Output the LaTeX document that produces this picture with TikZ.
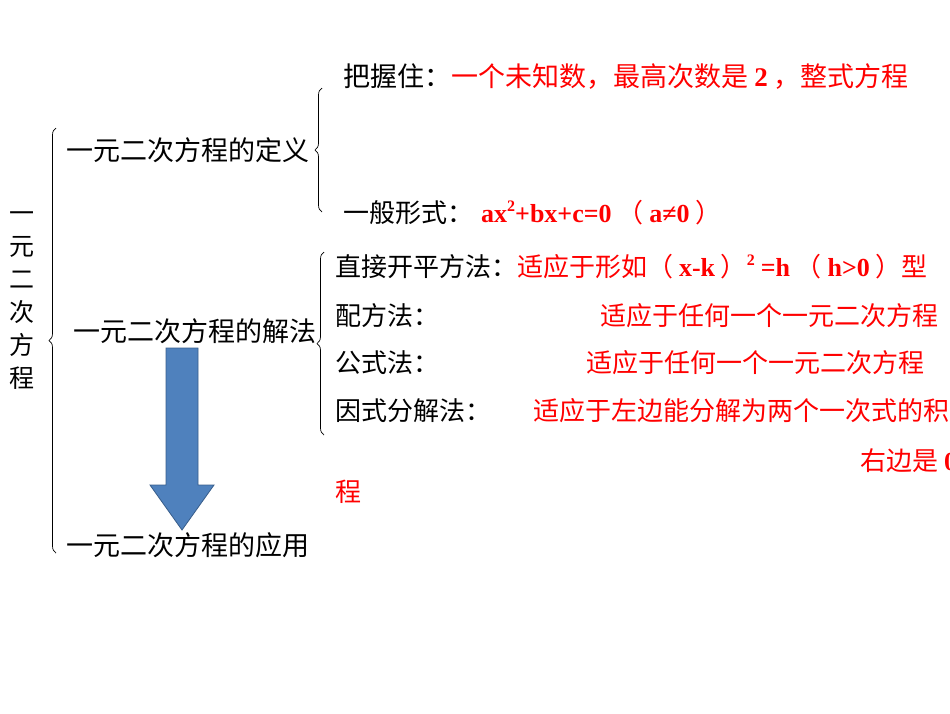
\documentclass[tikz,border=0pt]{standalone}
\usepackage{fontspec}
\setmainfont{Noto Sans CJK SC}
\newfontfamily\lat{Liberation Serif}
\usetikzlibrary{decorations.pathreplacing}
\newcommand{\Lt}[1]{{\lat\bfseries #1}}
\newcommand{\sq}{\raisebox{0.42em}{\fontsize{16}{16}\selectfont\lat\bfseries 2}}
\definecolor{arrblue}{HTML}{4F81BD}
\definecolor{arrline}{HTML}{385D8A}
\begin{document}
\begin{tikzpicture}[x=1pt,y=-1pt,
  lbl/.style={anchor=west,inner sep=0pt,font=\fontsize{26}{26}\selectfont},
  big/.style={anchor=west,inner sep=0pt,font=\fontsize{27}{27}\selectfont},
  red/.style={text=red},
  br/.style={decorate,decoration={brace,amplitude=7pt,mirror},line width=0.7pt}]
\useasboundingbox (0,0) rectangle (950,713);
\clip (0,0) rectangle (950,713);
% braces
\draw[br] (56,128) -- (56,553);
\draw[br] (322,88) -- (322,212);
\draw[br] (324,252) -- (324,435);
% left vertical title
\node[inner sep=0pt,font=\fontsize{25}{33}\selectfont,align=center] (title) at (22,301) {一\\元\\二\\次\\方\\程};
\node[big] (def) at (66,150) {一元二次方程的定义};
\node[big] (sol) at (73,331) {一元二次方程的解法};
\node[big] (app) at (66,545) {一元二次方程的应用};
\node[big] (grasp) at (343,77) {把握住：\textcolor{red}{一个未知数，最高次数是 \Lt{2} ，整式方程}};
\node[lbl] (gen) at (343,213) {一般形式：};
\node[lbl,red] (genr) at (481,213) {\Lt{ax}\sq\Lt{+bx+c=0} （ \Lt{a≠0} ）};
\node[lbl] (m1) at (335,267) {直接开平方法：\textcolor{red}{适应于形如（ \Lt{x-k} ）\sq\ \Lt{=h} （ \Lt{h>0} ）型}};
\node[lbl] (m2) at (335,316) {配方法：};
\node[lbl,red] (r2) at (600,316) {适应于任何一个一元二次方程};
\node[lbl] (m3) at (335,363) {公式法：};
\node[lbl,red] (r3) at (586,363) {适应于任何一个一元二次方程};
\node[lbl] (m4) at (335,411) {因式分解法：};
\node[lbl,red] (r4) at (533,411) {适应于左边能分解为两个一次式的积};
\node[lbl,red] (r5) at (860,461) {右边是 \Lt{0}};
\node[lbl,red] (r6) at (335,492) {程};
% block arrow
\draw[fill=arrblue,draw=arrline,line width=0.8pt]
  (166,348) -- (198,348) -- (198,485) -- (214,485) -- (182,530) -- (150,485) -- (166,485) -- cycle;
\end{tikzpicture}
\end{document}
